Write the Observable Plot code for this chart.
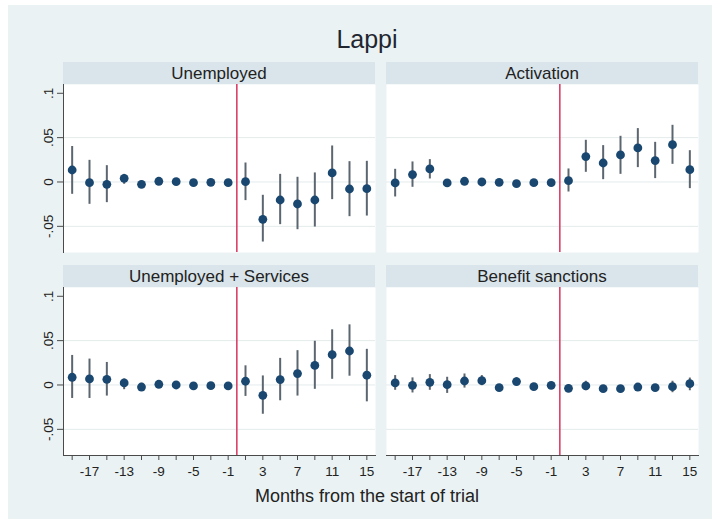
<!DOCTYPE html>
<html><head><meta charset="utf-8">
<script src="https://cdn.jsdelivr.net/npm/d3@7"></script>
<script src="https://cdn.jsdelivr.net/npm/@observablehq/plot@0.6"></script>
<style>
html,body{margin:0;padding:0;background:#fff;}
#page{position:relative;width:712px;height:519px;overflow:hidden;background:#fff;font-family:"Liberation Sans",Arial,sans-serif;}
#bg{position:absolute;left:8px;top:5px;width:704px;height:514px;background:#eaf2f3;}
.strip{position:absolute;height:22px;width:312px;background:#d9e5ea;color:#222;font-size:17px;text-align:center;line-height:23px;}
.panel{position:absolute;}
#title{position:absolute;left:217px;width:300px;top:24px;text-align:center;font-size:25px;line-height:30px;color:#1f2630;}
#xtitle{position:absolute;left:167px;width:400px;top:485px;text-align:center;font-size:18px;line-height:22px;color:#222;}
</style></head>
<body>
<div id="page"><div id="bg"></div><div id="title">Lappi</div><div id="xtitle">Months from the start of trial</div></div>
<script>
// ---- data ----
const months = [-19,-17,-15,-13,-11,-9,-7,-5,-3,-1,1,3,5,7,9,11,13,15];
const labeledMonths = [-17,-13,-9,-5,-1,3,7,11,15];
const yTicks = [0.1, 0.05, 0, -0.05];
const yTickLabels = [".1", ".05", "0", "-.05"];
const gridValues = [0.05, 0, -0.05];
const trialStart = [0];
const panelNames = ["Unemployed", "Activation", "Unemployed + Services", "Benefit sanctions"];

const estUnemployed = [0.0135,-0.0008,-0.0026,0.0041,-0.0026,0.0008,0.0004,-0.0008,-0.0004,-0.0008,0.0004,-0.0421,-0.0203,-0.0248,-0.0203,0.0102,-0.0079,-0.0075];
const loUnemployed  = [-0.0139,-0.0252,-0.0233,-0.0026,-0.0056,-0.002,-0.002,-0.003,-0.003,-0.003,-0.021,-0.0677,-0.0481,-0.0538,-0.0508,-0.0199,-0.0391,-0.0384];
const hiUnemployed  = [0.040,0.0244,0.0184,0.0086,0.001,0.0036,0.0028,0.0014,0.0022,0.0014,0.0214,-0.015,0.0086,0.0053,0.0102,0.0406,0.0229,0.0233];

const estActivation = [-0.0011,0.0083,0.0147,-0.0011,0.0008,0,-0.0004,-0.0019,-0.0008,-0.0008,0.0015,0.0286,0.0214,0.0305,0.0384,0.0241,0.0421,0.0139];
const loActivation  = [-0.0169,-0.006,0.0034,-0.0035,-0.0015,-0.0025,-0.0028,-0.0043,-0.0032,-0.003,-0.0113,0.0109,0.0026,0.0086,0.0162,0.0038,0.0199,-0.0075];
const hiActivation  = [0.0143,0.0226,0.0252,0.0013,0.0031,0.0025,0.002,0.0005,0.0016,0.0014,0.0147,0.047,0.041,0.0515,0.0602,0.0447,0.0639,0.0353];

const estServices = [0.0087,0.0068,0.0064,0.0023,-0.0023,0.0008,0,-0.0011,-0.0008,-0.0011,0.0042,-0.0117,0.0061,0.0129,0.022,0.0341,0.0383,0.011];
const loServices  = [-0.0152,-0.0152,-0.0125,-0.0053,-0.0072,-0.002,-0.0025,-0.0035,-0.003,-0.003,-0.0129,-0.033,-0.0178,-0.0125,-0.0049,0.0064,0.0099,-0.019];
const hiServices  = [0.0333,0.0292,0.0254,0.0068,0.0019,0.0035,0.0025,0.0013,0.0014,0.0008,0.0216,0.0102,0.03,0.0387,0.0493,0.0622,0.0678,0.0402];

const estSanctions = [0.0023,-0.0004,0.003,0.0004,0.0045,0.0049,-0.003,0.0038,-0.0019,-0.0004,-0.0038,-0.0011,-0.0042,-0.0042,-0.0023,-0.003,-0.0019,0.0015];
const loSanctions  = [-0.006,-0.009,-0.006,-0.0095,-0.0035,-0.0008,-0.0065,-0.0008,-0.0055,-0.004,-0.007,-0.0064,-0.0075,-0.0075,-0.0058,-0.0062,-0.0087,-0.0065];
const hiSanctions  = [0.0106,0.008,0.0117,0.0087,0.0124,0.0106,0.0005,0.0083,0.0017,0.003,0.0002,0.0042,-0.001,-0.001,0.0012,0.0002,0.0042,0.0078];

// ---- layout ----
const PW = 312, PH = 168;
const layout = [
  {name: panelNames[0], est: estUnemployed, lo: loUnemployed, hi: hiUnemployed, x: 63, y: 84, yAxis: true, xAxis: false},
  {name: panelNames[1], est: estActivation, lo: loActivation, hi: hiActivation, x: 386, y: 84, yAxis: false, xAxis: false},
  {name: panelNames[2], est: estServices, lo: loServices, hi: hiServices, x: 63, y: 287, yAxis: true, xAxis: true},
  {name: panelNames[3], est: estSanctions, lo: loSanctions, hi: hiSanctions, x: 386, y: 287, yAxis: false, xAxis: true}
];

const yLabelOf = new Map(yTicks.map((v, i) => [v, yTickLabels[i]]));
const labeledSet = new Set(labeledMonths);
const page = document.getElementById("page");

for (const p of layout) {
  const data = months.map((m, j) => ({m, est: p.est[j], lo: p.lo[j], hi: p.hi[j]}));
  const ml = p.yAxis ? 50 : 0, mb = p.xAxis ? 30 : 0;
  const marks = [
    Plot.frame({fill: "white", stroke: null}),
    Plot.gridY(gridValues, {stroke: "#e4ebeb", strokeOpacity: 1, strokeWidth: 1}),
    Plot.ruleX(trialStart, {stroke: "#d8355f", strokeWidth: 1.5}),
    Plot.ruleX(data, {x: "m", y1: "lo", y2: "hi", stroke: "#5b6670", strokeWidth: 2}),
    Plot.dot(data, {x: "m", y: "est", r: 4.4, fill: "#1a476f", stroke: null})
  ];
  if (p.yAxis) {
    marks.push(Plot.frame({anchor: "left", stroke: "#4a4a4a", strokeWidth: 1}));
    marks.push(Plot.axisY(yTicks, {label: null, tickSize: 6, tickPadding: 5, tickRotate: -90, fontSize: 13.5, fill: "#222", stroke: "#4a4a4a", tickFormat: d => yLabelOf.get(d)}));
  }
  if (p.xAxis) {
    marks.push(Plot.frame({anchor: "bottom", stroke: "#4a4a4a", strokeWidth: 1}));
    marks.push(Plot.axisX(months, {label: null, tickSize: 5, tickPadding: 6, fontSize: 13.5, fill: "#222", stroke: "#4a4a4a", tickFormat: d => labeledSet.has(d) ? String(d) : ""}));
  }
  const svg = Plot.plot({
    width: PW + ml, height: PH + mb,
    marginLeft: ml, marginRight: 0, marginTop: 0, marginBottom: mb,
    style: {background: "none", overflow: "visible", fontFamily: "'Liberation Sans', Arial, sans-serif"},
    x: {domain: [-20, 16], axis: null},
    y: {domain: [-0.0795, 0.1099], axis: null},
    marks
  });
  svg.classList.add("panel");
  svg.style.left = (p.x - ml) + "px";
  svg.style.top = p.y + "px";
  page.appendChild(svg);
  const strip = document.createElement("div");
  strip.className = "strip";
  strip.style.left = p.x + "px";
  strip.style.top = (p.y - 22) + "px";
  strip.textContent = p.name;
  page.appendChild(strip);
}
</script>
</body></html>
